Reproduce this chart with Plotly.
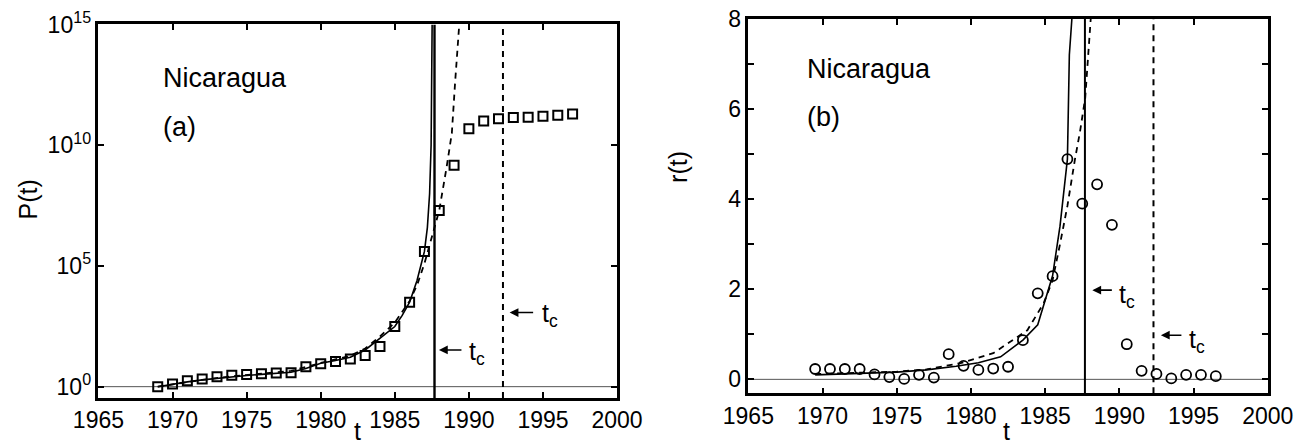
import numpy as np
import plotly.graph_objects as go

# ---------------- data ----------------
years_P = list(range(1969, 1998))
log10_P = [0.00, 0.11, 0.24, 0.32, 0.41, 0.47, 0.50, 0.53, 0.57, 0.58,
           0.83, 0.95, 1.04, 1.15, 1.29, 1.66, 2.49, 3.50, 5.60,
           7.30, 9.17, 10.68, 11.00, 11.10, 11.15, 11.16, 11.20, 11.24, 11.29]

fitA_solid_t = [1969, 1970, 1971, 1972, 1973, 1974, 1975, 1976, 1977, 1978, 1979, 1980,
                1981, 1982, 1983, 1984, 1985, 1985.5, 1986, 1986.5, 1987, 1987.2,
                1987.35, 1987.45, 1987.52]
fitA_solid_log = [0.00, 0.11, 0.20, 0.28, 0.35, 0.41, 0.46, 0.51, 0.55, 0.60, 0.75, 0.97,
                  1.08, 1.22, 1.52, 2.02, 2.49, 2.95, 3.50, 4.40, 5.60, 6.60,
                  8.00, 10.00, 15.00]
fitA_dash_t = [1969, 1970, 1972, 1974, 1976, 1978, 1980, 1982, 1983, 1984, 1985, 1986,
               1986.5, 1987, 1987.5, 1988, 1988.5, 1988.85, 1989.07, 1989.2, 1989.35]
fitA_dash_log = [0.00, 0.10, 0.28, 0.43, 0.54, 0.65, 0.98, 1.28, 1.58, 2.08, 2.65, 3.55,
                 4.20, 5.10, 6.20, 7.30, 9.10, 10.50, 12.60, 13.60, 15.00]

years_r = [1969.5 + i for i in range(28)]
r_vals = [0.23, 0.23, 0.23, 0.23, 0.11, 0.05, 0.01, 0.10, 0.04, 0.56,
          0.30, 0.21, 0.24, 0.28, 0.87, 1.91, 2.29, 4.89, 3.90, 4.33,
          3.43, 0.78, 0.19, 0.12, 0.02, 0.10, 0.10, 0.07]

fitB_solid_t = [1969.5, 1971, 1973, 1975, 1977, 1979, 1980.5, 1982, 1983.5, 1984.5,
                1985.5, 1986.0, 1986.5, 1986.63, 1986.8]
fitB_solid_r = [0.10, 0.12, 0.14, 0.16, 0.21, 0.29, 0.37, 0.50, 0.87, 1.21,
                2.30, 3.40, 4.89, 7.20, 8.00]
fitB_dash_t = [1969.5, 1972, 1975, 1977, 1979.3, 1981.5, 1983.8, 1984.9, 1985.5, 1986.0,
               1986.5, 1987.0, 1987.35, 1987.7, 1987.9, 1988.07]
fitB_dash_r = [0.12, 0.14, 0.17, 0.22, 0.36, 0.58, 1.09, 1.69, 2.20, 3.00,
               3.85, 4.87, 5.50, 6.25, 7.30, 8.00]

tc_solid = 1987.68
tc_dash = 1992.3

x_ticks = [1965, 1970, 1975, 1980, 1985, 1990, 1995, 2000]
yA_tickvals = [1, 1e5, 1e10, 1e15]
yA_ticktext = ["10<sup>0</sup>", "10<sup>5</sup>", "10<sup>10</sup>", "10<sup>15</sup>"]
yB_tickvals = [0, 1, 2, 3, 4, 5, 6, 7, 8]
yB_ticktext = ["0", "", "2", "", "4", "", "6", "", "8"]

# ---------------- figure ----------------
FONT = "Liberation Sans, Arial, Helvetica, sans-serif"
fig = go.Figure()

P = 10 ** np.array(log10_P)
yA_lo, yA_hi = 10 ** -0.47, 1e15

# panel (a)
fig.add_trace(go.Scatter(x=[1965, 2000], y=[1, 1], mode="lines",
                         line=dict(color="#555", width=1), xaxis="x", yaxis="y"))
fig.add_trace(go.Scatter(x=[tc_solid, tc_solid], y=[yA_lo, yA_hi], mode="lines",
                         line=dict(color="black", width=2.4), xaxis="x", yaxis="y"))
fig.add_trace(go.Scatter(x=[tc_dash, tc_dash], y=[yA_lo, yA_hi], mode="lines",
                         line=dict(color="black", width=2, dash="6px,5px"), xaxis="x", yaxis="y"))
fig.add_trace(go.Scatter(x=fitA_solid_t, y=10 ** np.array(fitA_solid_log), mode="lines",
                         line=dict(color="black", width=1.6), xaxis="x", yaxis="y"))
fig.add_trace(go.Scatter(x=fitA_dash_t, y=10 ** np.array(fitA_dash_log), mode="lines",
                         line=dict(color="black", width=1.8, dash="6px,5px"), xaxis="x", yaxis="y"))
fig.add_trace(go.Scatter(x=years_P, y=P, mode="markers",
                         marker=dict(symbol="square-open", size=9, color="black",
                                     line=dict(width=2, color="black")),
                         xaxis="x", yaxis="y"))

# panel (b)
fig.add_trace(go.Scatter(x=[1965, 2000], y=[0, 0], mode="lines",
                         line=dict(color="#555", width=1), xaxis="x2", yaxis="y2"))
fig.add_trace(go.Scatter(x=[tc_solid, tc_solid], y=[-0.31, 8], mode="lines",
                         line=dict(color="black", width=2), xaxis="x2", yaxis="y2"))
fig.add_trace(go.Scatter(x=[tc_dash, tc_dash], y=[-0.31, 8], mode="lines",
                         line=dict(color="black", width=2, dash="6px,5px"), xaxis="x2", yaxis="y2"))
fig.add_trace(go.Scatter(x=fitB_solid_t, y=fitB_solid_r, mode="lines",
                         line=dict(color="black", width=1.6), xaxis="x2", yaxis="y2"))
fig.add_trace(go.Scatter(x=fitB_dash_t, y=fitB_dash_r, mode="lines",
                         line=dict(color="black", width=1.8, dash="6px,5px"), xaxis="x2", yaxis="y2"))
fig.add_trace(go.Scatter(x=years_r, y=r_vals, mode="markers",
                         marker=dict(symbol="circle-open", size=10, color="black",
                                     line=dict(width=1.8, color="black")),
                         xaxis="x2", yaxis="y2"))

axis_common = dict(showline=True, linewidth=2.5, linecolor="black", mirror="ticks",
                   ticks="inside", ticklen=6, tickwidth=1.5, tickcolor="black",
                   showgrid=False, zeroline=False, automargin=False,
                   tickfont=dict(family=FONT, size=23, color="black"))

fig.update_layout(
    width=1304, height=447,
    margin=dict(l=0, r=0, t=0, b=0),
    paper_bgcolor="white", plot_bgcolor="white",
    showlegend=False,
    font=dict(family=FONT, size=22, color="black"),
    xaxis=dict(domain=[0.0755, 0.4732], range=[1965, 2000], tickvals=x_ticks,
               anchor="y", **axis_common),
    yaxis=dict(domain=[0.1096, 0.9452], type="log", range=[-0.47, 15.0],
               tickvals=yA_tickvals, ticktext=yA_ticktext, anchor="x", **axis_common),
    xaxis2=dict(domain=[0.5739, 0.9722], range=[1965, 2000], tickvals=x_ticks,
                anchor="y2", **axis_common),
    yaxis2=dict(domain=[0.1201, 0.9575], range=[-0.31, 8], tickvals=yB_tickvals,
                ticktext=yB_ticktext, anchor="x2", **axis_common),
)

title_font = dict(family=FONT, size=25, color="black")
annots = [
    # axis titles
    dict(x=0.0211, y=0.5526, xref="paper", yref="paper", text="P(t)", textangle=-90,
         showarrow=False, xanchor="center", yanchor="middle", font=title_font),
    dict(x=0.5199, y=0.6264, xref="paper", yref="paper", text="r(t)", textangle=-90,
         showarrow=False, xanchor="center", yanchor="middle", font=title_font),
    dict(x=0.2745, y=0.0, xref="paper", yref="paper", text="t",
         showarrow=False, xanchor="center", yanchor="bottom", font=title_font),
    dict(x=0.7722, y=0.0, xref="paper", yref="paper", text="t",
         showarrow=False, xanchor="center", yanchor="bottom", font=title_font),
]

txt = dict(family=FONT, size=27, color="black")
annots += [
    dict(x=1969.25, y=12.8, xref="x", yref="y", text="Nicaragua", showarrow=False,
         xanchor="left", yanchor="middle", font=txt),
    dict(x=1969.25, y=10.75, xref="x", yref="y", text="(a)", showarrow=False,
         xanchor="left", yanchor="middle", font=txt),
    dict(x=1968.8, y=6.9, xref="x2", yref="y2", text="Nicaragua", showarrow=False,
         xanchor="left", yanchor="middle", font=txt),
    dict(x=1968.8, y=5.82, xref="x2", yref="y2", text="(b)", showarrow=False,
         xanchor="left", yanchor="middle", font=txt),
]
arrow_style = dict(showarrow=True, arrowhead=2, arrowsize=1.1, arrowwidth=1.6,
                   arrowcolor="black", ay=0, text="")
# arrows pointing at the t_c lines (log axis: annotation y given as log10)
annots += [
    dict(x=tc_solid + 0.3, y=1.52, xref="x", yref="y", ax=24, **arrow_style),
    dict(x=tc_dash + 0.45, y=3.07, xref="x", yref="y", ax=25, **arrow_style),
    dict(x=tc_solid + 0.5, y=1.98, xref="x2", yref="y2", ax=21, **arrow_style),
    dict(x=tc_dash + 0.5, y=0.98, xref="x2", yref="y2", ax=22, **arrow_style),
]
tc_txt = "t<sub>c</sub>"
tfont = dict(family=FONT, size=25, color="black")
annots += [
    dict(x=tc_solid + 2.2, y=1.4, xref="x", yref="y", text=tc_txt, showarrow=False,
         xanchor="left", yanchor="middle", font=tfont),
    dict(x=tc_dash + 2.5, y=2.95, xref="x", yref="y", text=tc_txt, showarrow=False,
         xanchor="left", yanchor="middle", font=tfont),
    dict(x=tc_solid + 2.15, y=1.85, xref="x2", yref="y2", text=tc_txt, showarrow=False,
         xanchor="left", yanchor="middle", font=tfont),
    dict(x=tc_dash + 2.25, y=0.85, xref="x2", yref="y2", text=tc_txt, showarrow=False,
         xanchor="left", yanchor="middle", font=tfont),
]
fig.update_layout(annotations=annots)

fig.write_html("out.html", config={"displayModeBar": False},
               post_script="document.body.style.margin='0';document.body.style.padding='0';")
